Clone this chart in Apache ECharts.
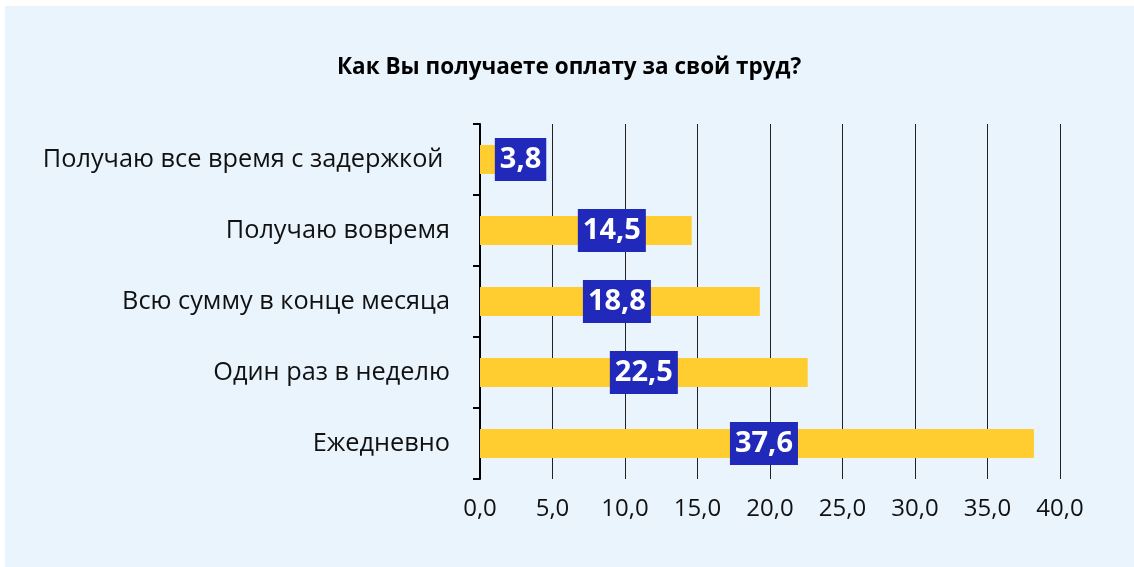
<!DOCTYPE html>
<html><head><meta charset="utf-8">
<script src="https://cdn.jsdelivr.net/npm/echarts@6/dist/echarts.min.js"></script>
<style>
html,body{margin:0;padding:0;background:#ffffff;width:1134px;height:567px;overflow:hidden;}
#c{position:absolute;left:5px;top:6px;width:1129px;height:561px;}
</style></head>
<body><div id="c"></div>
<script>
const titleText = 'Как Вы получаете оплату за свой труд?';
const categories = ['Получаю все время с задержкой ', 'Получаю вовремя', 'Всю сумму в конце месяца', 'Один раз в неделю', 'Ежедневно'];
const barValues = [3.8, 14.6, 19.3, 22.6, 38.2];
const labelTexts = ['3,8', '14,5', '18,8', '22,5', '37,6'];
const tickLabels = ['0,0', '5,0', '10,0', '15,0', '20,0', '25,0', '30,0', '35,0', '40,0'];

const labelShift = [13, 26, -3, 0, 7];
const FONT = '"Open Sans", "Noto Sans", sans-serif';
const chart = echarts.init(document.getElementById('c'));
chart.setOption({
  backgroundColor: '#EAF4FC',
  animation: false,
  title: {
    text: titleText, left: 327, top: 45,
    textStyle: {fontFamily: FONT, fontSize: 22.5, fontWeight: 'bold', color: '#000'}
  },
  grid: {left: 475, right: 74, top: 118, bottom: 88, containLabel: false},
  xAxis: {
    type: 'value', min: 0, max: 40, interval: 5,
    axisLine: {show: false}, axisTick: {show: false},
    axisLabel: {
      fontFamily: FONT, fontSize: 24, color: '#111', margin: 18,
      formatter: function (v) { return tickLabels[Math.round(v / 5)]; }
    },
    splitLine: {show: true, lineStyle: {color: '#222', width: 1}}
  },
  yAxis: {
    type: 'category', data: categories, inverse: true,
    axisLine: {show: true, lineStyle: {color: '#000', width: 2}},
    axisTick: {show: true, length: 7, lineStyle: {color: '#000', width: 2}},
    axisLabel: {fontFamily: FONT, fontSize: 25.3, color: '#111', margin: 30}
  },
  series: [{
    type: 'bar', barWidth: 29,
    itemStyle: {color: '#FFCD2F'},
    data: barValues.map(function (v, i) {
      return {value: v, label: {offset: [labelShift[i], 0]}};
    }),
    label: {
      show: true, position: 'inside',
      formatter: function (p) { return labelTexts[p.dataIndex]; },
      backgroundColor: '#2029BA', color: '#fff',
      fontFamily: FONT, fontSize: 29, fontWeight: 'bold',
      padding: [7, 5, 5, 5], lineHeight: 31
    },
    z: 3
  }]
});
</script></body></html>
